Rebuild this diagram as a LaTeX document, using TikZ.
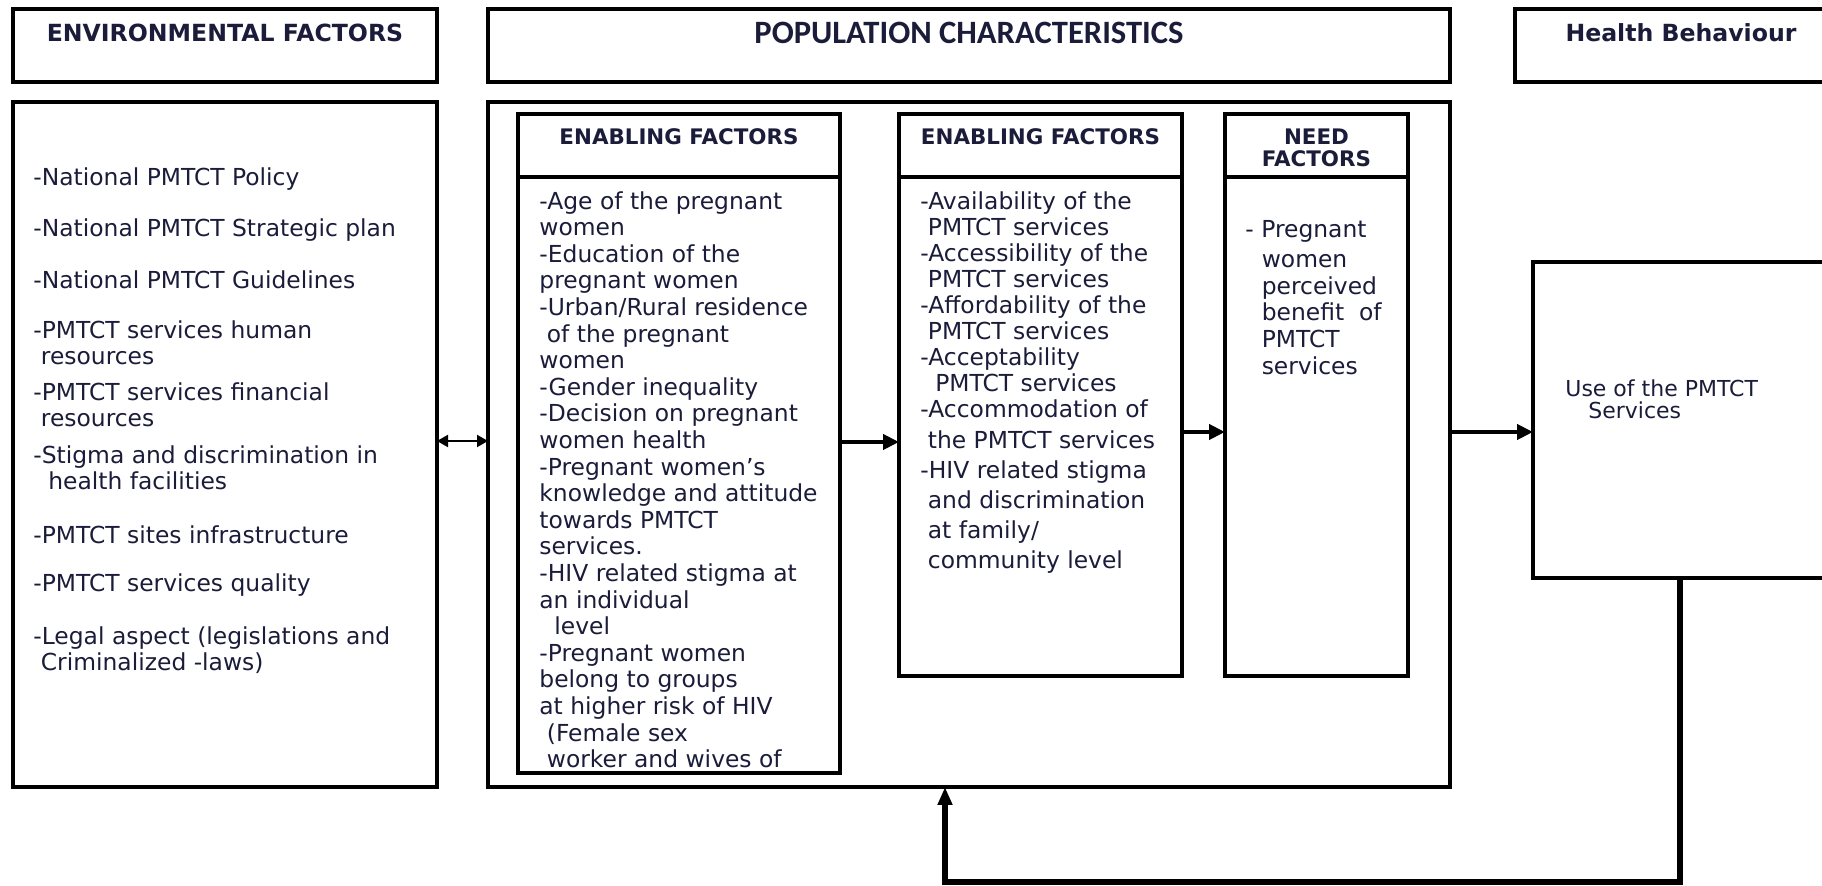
\documentclass[tikz,border=0pt]{standalone}
\usepackage{fontspec}
\setmainfont{DejaVu Sans}
\newfontfamily\calibrifont{Carlito}
\usetikzlibrary{positioning,arrows.meta}
\definecolor{ink}{HTML}{1A1C3A}
\begin{document}
\begin{tikzpicture}[x=0.5pt, y=-0.5pt,
    box/.style={draw, line width=1.8pt, inner sep=0pt, outer sep=0pt},
    tophead/.style={box, minimum height=36.5pt, text depth=12.5pt, text=ink, font=\bfseries\fontsize{11.8}{14}\selectfont},
    subhead/.style={box, minimum height=31.5pt, align=center, text=ink, font=\bfseries\fontsize{10.7}{11}\selectfont},
    txt/.style={inner sep=0pt, anchor=north west, align=left, text=ink},
    link/.style={line width=2pt, -{Triangle[length=8pt, width=7.5pt]}},
    dlink/.style={line width=1pt, {Triangle[length=5.5pt, width=6pt]}-{Triangle[length=5.5pt, width=6pt]}},
    fblink/.style={line width=2.6pt, -{Triangle[length=9pt, width=7pt]}}]
\clip (0,0) rectangle (1822,886);

\node[tophead, minimum width=212pt] (envhead) at (225,45.5) {ENVIRONMENTAL FACTORS};
\node[tophead, minimum width=481pt, right=25.5pt of envhead, font=\calibrifont\bfseries\fontsize{16.3}{19}\selectfont] (pophead) {POPULATION CHARACTERISTICS};
\node[tophead, minimum width=166pt, right=32.5pt of pophead] (hbhead) {Health Behaviour};

\node[box, minimum width=212pt, minimum height=342.5pt, below=10pt of envhead] (envbody) {};
\node[box, line width=1.6pt, minimum width=481pt, minimum height=342.5pt, below=10pt of pophead] (popbody) {};

\node[subhead, minimum width=161pt, text depth=8.5pt] (enab1head) at (679,145.5) {ENABLING FACTORS};
\node[box, minimum width=161pt, minimum height=298pt, below=0pt of enab1head] (enab1) {};
\node[subhead, minimum width=141.5pt, text depth=8.5pt] (enab2head) at (1040.5,145.5) {ENABLING FACTORS};
\node[box, minimum width=141.5pt, minimum height=249.5pt, below=0pt of enab2head] (enab2) {};
\node[subhead, minimum width=91.5pt, text height=21.2pt] (needhead) at (1316.5,145.5) {NEED\\FACTORS};
\node[box, minimum width=91.5pt, minimum height=249.5pt, below=0pt of needhead] (need) {};
\node[box, minimum width=147pt, minimum height=158pt] (use) at (1680,420) {};

\node[txt, font=\fontsize{11.7}{13}\selectfont] (envtext) at ([xshift=10pt, yshift=-32.5pt]envbody.north west) {%
-National PMTCT Policy\\[12.5pt]
-National PMTCT Strategic plan\\[13pt]
-National PMTCT Guidelines\\[12pt]
-PMTCT services human\\
\hspace*{.32em}resources\\[5pt]
-PMTCT services financial\\
\hspace*{.32em}resources\\[5.5pt]
-Stigma and discrimination in\\
\hspace*{.64em}health facilities\\[14pt]
-PMTCT sites infrastructure\\[11pt]
-PMTCT services quality\\[13.5pt]
-Legal aspect (legislations and\\
\hspace*{.32em}Criminalized -laws)};

\node[txt, font=\fontsize{11.7}{13.3}\selectfont] (enab1text) at ([xshift=10.5pt, yshift=-7pt]enab1.north west) {%
-Age of the pregnant\\
women\\
-Education of the\\
pregnant women\\
-Urban/Rural residence\\
\hspace*{.32em}of the pregnant\\
women\\
-Gender inequality\\
-Decision on pregnant\\
women health\\
-Pregnant women\symbol{39}s\\
knowledge and attitude\\
towards PMTCT\\
services.\\
-HIV related stigma at\\
an individual\\
\hspace*{.64em}level\\
-Pregnant women\\
belong to groups\\
at higher risk of HIV\\
\hspace*{.32em}(Female sex\\
\hspace*{.32em}worker and wives of};

\node[txt, font=\fontsize{11.7}{13}\selectfont] (enab2text) at ([xshift=10.5pt, yshift=-7pt]enab2.north west) {%
-Availability of the\\
\hspace*{.32em}PMTCT services\\
-Accessibility of the\\
\hspace*{.32em}PMTCT services\\
-Affordability of the\\
\hspace*{.32em}PMTCT services\\
-Acceptability\\
\hspace*{.64em}PMTCT services\\
-Accommodation of\\[2.5pt]
\hspace*{.32em}the PMTCT services\\[2pt]
-HIV related stigma\\[2pt]
\hspace*{.32em}and discrimination\\[2pt]
\hspace*{.32em}at family/\\[2pt]
\hspace*{.32em}community level};

\node[txt, font=\fontsize{11.7}{13.35}\selectfont] (needtext) at ([xshift=10pt, yshift=-21.5pt]need.north west) {%
- Pregnant\\[1.7pt]
\hspace*{.7em}women\\
\hspace*{.7em}perceived\\
\hspace*{.7em}benefit\ \ of\\
\hspace*{.7em}PMTCT\\
\hspace*{.7em}services};

\node[txt, font=\fontsize{11}{11}\selectfont] (usetext) at ([xshift=16pt, yshift=-58.5pt]use.north west) {%
Use of the PMTCT\\
\hspace*{11.5pt}Services};

\draw[dlink] ([yshift=1.75pt]envbody.east) -- ([yshift=1.75pt]popbody.west);
\coordinate (e1out) at ([yshift=16.5pt]enab1.east);
\draw[link] (e1out) -- (e1out -| enab2.west);
\coordinate (e2out) at ([yshift=-2.75pt]enab2.east);
\draw[link] (e2out) -- (e2out -| need.west);
\coordinate (popout) at ([yshift=6.25pt]popbody.east);
\draw[link] (popout) -- (popout -| use.west);
\coordinate (fbturn) at (945,882);
\draw[fblink] (use.south) |- (fbturn) -- (fbturn |- popbody.south);
\end{tikzpicture}
\end{document}
